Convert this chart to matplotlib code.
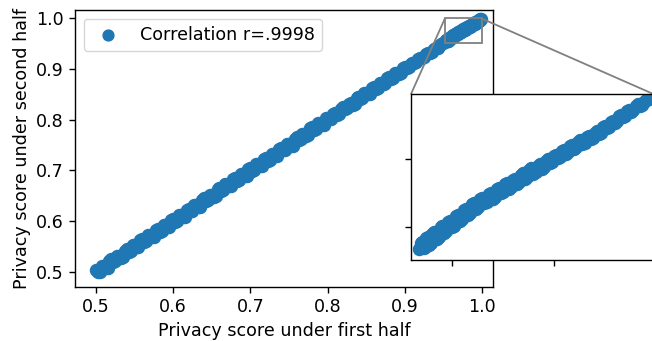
import matplotlib
matplotlib.use("Agg")
import matplotlib.pyplot as plt
from mpl_toolkits.axes_grid1.inset_locator import mark_inset

################################################################################
# privacy scores, first half vs second half
first_half = [0.500, 0.505, 0.510, 0.515, 0.520, 0.525, 0.530, 0.535, 0.540, 0.545,
              0.550, 0.555, 0.560, 0.565, 0.570, 0.575, 0.580, 0.585, 0.590, 0.595,
              0.600, 0.605, 0.610, 0.615, 0.620, 0.625, 0.630, 0.635, 0.640, 0.645,
              0.650, 0.655, 0.660, 0.665, 0.670, 0.675, 0.680, 0.685, 0.690, 0.695,
              0.700, 0.705, 0.710, 0.715, 0.720, 0.725, 0.730, 0.735, 0.740, 0.745,
              0.750, 0.755, 0.760, 0.765, 0.770, 0.775, 0.780, 0.785, 0.790, 0.795,
              0.800, 0.805, 0.810, 0.815, 0.820, 0.825, 0.830, 0.835, 0.840, 0.845,
              0.850, 0.855, 0.860, 0.865, 0.870, 0.875, 0.880, 0.885, 0.890, 0.895,
              0.900, 0.905, 0.910, 0.915, 0.920, 0.925, 0.930, 0.935, 0.940, 0.945,
              0.950,
              0.5025, 0.5075, 0.5125, 0.5175, 0.5225, 0.5275, 0.5325, 0.5375, 0.5425, 0.5475,
              0.5525, 0.5575, 0.5625, 0.5675, 0.5725, 0.5775, 0.5825, 0.5875, 0.5925, 0.5975,
              0.6025, 0.6075, 0.6125, 0.6175, 0.6225, 0.6275, 0.6325, 0.6375, 0.6425, 0.6475,
              0.6525, 0.6575, 0.6625, 0.6675, 0.6725, 0.6775, 0.6825, 0.6875, 0.6925, 0.6975,
              0.7025, 0.7075, 0.7125, 0.7175, 0.7225, 0.7275, 0.7325, 0.7375, 0.7425, 0.7475,
              0.7525, 0.7575, 0.7625, 0.7675, 0.7725, 0.7775, 0.7825, 0.7875, 0.7925, 0.7975,
              0.8025, 0.8075, 0.8125, 0.8175, 0.8225, 0.8275, 0.8325, 0.8375, 0.8425, 0.8475,
              0.8525, 0.8575, 0.8625, 0.8675, 0.8725, 0.8775, 0.8825, 0.8875, 0.8925, 0.8975,
              0.9025, 0.9075, 0.9125, 0.9175, 0.9225, 0.9275, 0.9325, 0.9375, 0.9425, 0.9475,
              0.9535, 0.9540, 0.9545, 0.9550, 0.9555, 0.9562, 0.9570, 0.9578, 0.9585, 0.9593,
              0.9600, 0.9608, 0.9616, 0.9624, 0.9632, 0.9640, 0.9648, 0.9656, 0.9664, 0.9672,
              0.9680, 0.9688, 0.9696, 0.9704, 0.9712, 0.9720, 0.9728, 0.9736, 0.9744, 0.9752,
              0.9760, 0.9768, 0.9776, 0.9784, 0.9792, 0.9800, 0.9808, 0.9816, 0.9824, 0.9832,
              0.9840, 0.9848, 0.9856, 0.9864, 0.9872, 0.9880, 0.9888, 0.9896, 0.9904, 0.9912,
              0.9920, 0.9928, 0.9936, 0.9944, 0.9952, 0.9960, 0.9968, 0.9976, 0.9986,
              0.95375, 0.95425, 0.95475, 0.95525, 0.95585, 0.9566, 0.9574, 0.95815, 0.9589, 0.95965,
              0.9604, 0.9612, 0.9620, 0.9628, 0.9636, 0.9644, 0.9652, 0.9660, 0.9668, 0.9676,
              0.9684, 0.9692, 0.9700, 0.9708, 0.9716, 0.9724, 0.9732, 0.9740, 0.9748, 0.9756,
              0.9764, 0.9772, 0.9780, 0.9788, 0.9796, 0.9804, 0.9812, 0.9820, 0.9828, 0.9836,
              0.9844, 0.9852, 0.9860, 0.9868, 0.9876, 0.9884, 0.9892, 0.9900, 0.9908, 0.9916,
              0.9924, 0.9932, 0.9940, 0.9948, 0.9956, 0.9964, 0.9972, 0.9981]
second_half = [0.505, 0.501, 0.512, 0.509, 0.525, 0.521, 0.532, 0.529, 0.545, 0.541,
               0.552, 0.549, 0.565, 0.561, 0.572, 0.569, 0.585, 0.581, 0.592, 0.589,
               0.605, 0.601, 0.612, 0.609, 0.625, 0.621, 0.632, 0.629, 0.645, 0.641,
               0.652, 0.649, 0.665, 0.661, 0.672, 0.669, 0.685, 0.681, 0.692, 0.689,
               0.705, 0.701, 0.712, 0.709, 0.725, 0.721, 0.732, 0.729, 0.745, 0.741,
               0.752, 0.749, 0.765, 0.761, 0.772, 0.769, 0.785, 0.781, 0.792, 0.789,
               0.804, 0.802, 0.812, 0.811, 0.824, 0.822, 0.832, 0.831, 0.844, 0.842,
               0.852, 0.851, 0.864, 0.862, 0.872, 0.871, 0.884, 0.882, 0.892, 0.891,
               0.903, 0.904, 0.911, 0.913, 0.922, 0.924, 0.931, 0.933, 0.941, 0.944,
               0.951,
               0.4995, 0.5125, 0.5085, 0.5225, 0.5195, 0.5325, 0.5285, 0.5425, 0.5395, 0.5525,
               0.5485, 0.5625, 0.5595, 0.5725, 0.5685, 0.5825, 0.5795, 0.5925, 0.5885, 0.6025,
               0.5995, 0.6125, 0.6085, 0.6225, 0.6195, 0.6325, 0.6285, 0.6425, 0.6395, 0.6525,
               0.6485, 0.6625, 0.6595, 0.6725, 0.6685, 0.6825, 0.6795, 0.6925, 0.6885, 0.7025,
               0.6995, 0.7125, 0.7085, 0.7225, 0.7195, 0.7325, 0.7285, 0.7425, 0.7395, 0.7525,
               0.7485, 0.7625, 0.7595, 0.7725, 0.7685, 0.7825, 0.7795, 0.7925, 0.7885, 0.8025,
               0.8005, 0.8115, 0.8095, 0.8215, 0.8205, 0.8315, 0.8295, 0.8415, 0.8405, 0.8515,
               0.8495, 0.8615, 0.8605, 0.8715, 0.8695, 0.8815, 0.8805, 0.8915, 0.8895, 0.9015,
               0.9015, 0.9095, 0.9110, 0.9195, 0.9215, 0.9295, 0.9310, 0.9395, 0.9415, 0.9495,
               0.9538, 0.9556, 0.9541, 0.9568, 0.9550, 0.9582, 0.9567, 0.9600, 0.9585, 0.9616,
               0.9601, 0.9633, 0.9620, 0.9650, 0.9637, 0.9667, 0.9655, 0.9683, 0.9670, 0.9697,
               0.9684, 0.9711, 0.9699, 0.9726, 0.9713, 0.9738, 0.9727, 0.9753, 0.9742, 0.9768,
               0.9756, 0.9780, 0.9771, 0.9794, 0.9786, 0.9808, 0.9801, 0.9822, 0.9815, 0.9836,
               0.9829, 0.9849, 0.9843, 0.9862, 0.9857, 0.9876, 0.9871, 0.9891, 0.9888, 0.9907,
               0.9905, 0.9923, 0.9921, 0.9939, 0.9937, 0.9954, 0.9953, 0.9966, 0.9973,
               0.9541, 0.9559, 0.9544, 0.9571, 0.9554, 0.9586, 0.9571, 0.9604, 0.9589, 0.9620,
               0.9605, 0.9637, 0.9624, 0.9654, 0.9641, 0.9671, 0.9659, 0.9687, 0.9674, 0.9701,
               0.9688, 0.9715, 0.9703, 0.9730, 0.9717, 0.9742, 0.9731, 0.9757, 0.9746, 0.9772,
               0.9760, 0.9784, 0.9775, 0.9798, 0.9790, 0.9812, 0.9805, 0.9826, 0.9819, 0.9840,
               0.9833, 0.9853, 0.9847, 0.9866, 0.9861, 0.9880, 0.9875, 0.9895, 0.9892, 0.9911,
               0.9909, 0.9927, 0.9925, 0.9943, 0.9941, 0.9958, 0.9957, 0.9970]
label = "Correlation r=.9998"
xTicks = [0.5, 0.6, 0.7, 0.8, 0.9, 1.0]
yTicks = [0.5, 0.6, 0.7, 0.8, 0.9, 1.0]
insetTicks = [0.96, 0.98]

################################################################################
plt.rcParams["font.size"] = 12.6
plt.rcParams["axes.linewidth"] = 1.0
plt.rcParams["xtick.major.size"] = 4.4
plt.rcParams["ytick.major.size"] = 4.4
plt.rcParams["xtick.major.width"] = 1.0
plt.rcParams["ytick.major.width"] = 1.0

fig, ax = plt.subplots(figsize=(6.52, 3.41), dpi=100)
fig.subplots_adjust(left=0.115, right=0.756, top=0.971, bottom=0.158)

ax.scatter(first_half, second_half, s=75, color="#1f77b4", label=label)
ax.set_xlim(0.4728, 1.0142)
ax.set_ylim(0.4705, 1.0157)
ax.set_xticks(xTicks)
ax.set_yticks(yTicks)
ax.set_xlabel("Privacy score under first half")
ax.set_ylabel("Privacy score under second half")
ax.legend(loc="upper left", markerscale=0.9)

################################################################################
# zoomed inset of the top right corner
axins = ax.inset_axes([0.804, 0.0975, 0.58, 0.599])
axins.scatter(first_half, second_half, s=75, color="#1f77b4")
axins.set_xlim(0.952, 0.9995)
axins.set_ylim(0.9505, 0.9988)
axins.set_xticks(insetTicks)
axins.set_yticks(insetTicks)
axins.set_xticklabels([])
axins.set_yticklabels([])
mark_inset(ax, axins, loc1=2, loc2=1, fc="none", ec="0.5", lw=1.3)

fig.savefig("out.png", dpi=100)
